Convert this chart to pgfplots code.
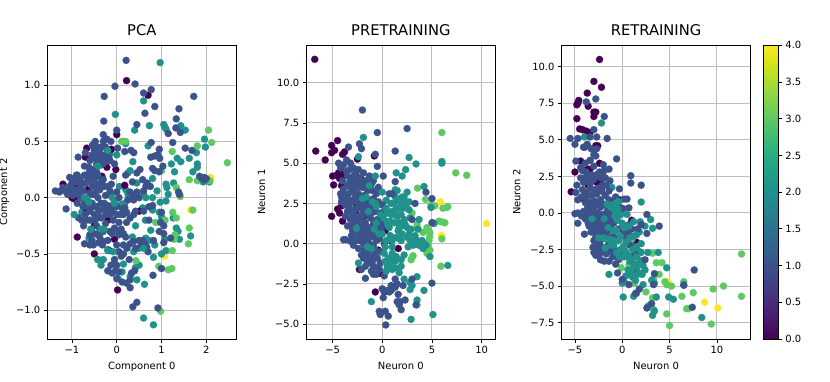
\documentclass[border=0pt]{standalone}
\usepackage{fontspec}
\setmainfont{DejaVu Sans}
\usepackage{pgfplots}
\pgfplotsset{compat=1.18}
\definecolor{c0}{HTML}{440154}
\definecolor{c1}{HTML}{3B528B}
\definecolor{c2}{HTML}{21918C}
\definecolor{c3}{HTML}{5EC962}
\definecolor{c4}{HTML}{FDE725}
\definecolor{gridc}{HTML}{BEBEBE}
\pgfplotsset{
  panel/.style={
    scale only axis, width=189bp, height=293.7bp,
    anchor=south west,
    axis line style={line width=0.8bp},
    tick align=outside, tick pos=left, major tick length=3.5bp,
    every tick/.style={black, line width=0.8bp},
    grid=major, grid style={gridc, line width=1bp},
    title style={font=\fontsize{14.8}{17}\selectfont, yshift=0.5bp},
    label style={font=\fontsize{10}{12}\selectfont},
    tick label style={font=\fontsize{10}{12}\selectfont},
    xlabel style={yshift=-2bp},
  },
  pts/.style={only marks, color=#1, mark=*, mark size=3.6bp, mark options={draw=#1, fill=#1, line width=0.1bp}},
}
\begin{document}
\begin{tikzpicture}[x=1bp, y=1bp]
\path[use as bounding box] (0,0) rectangle (830,381);

%% PCA
\begin{axis}[panel, at={(47.3bp,42bp)}, title={PCA},
  xlabel={Component 0}, ylabel={Component 2}, ylabel style={yshift=0bp},
  xmin=-1.55, xmax=2.67, ymin=-1.256, ymax=1.354,
  xtick={-1,0,1,2}, xticklabels={−1,0,1,2},
  ytick={-1,-0.5,0,0.5,1}, yticklabels={−1.0,−0.5,0.0,0.5,1.0}]
\addplot[pts=c4] coordinates {(2.1,0.18) (1.65,-0.11) (1.07,-0.52) (-0.57,0.36)};
\addplot[pts=c2] coordinates {(0.97,1.2) (0.6,0.86) (-0.03,0.74) (0.4,0.6) (0.73,0.64) (1.05,0.65) (1.07,0.63) (1.1,0.61)
 (1.43,0.64) (1.53,0.6) (1.96,0.52) (1.98,0.45) (0.2,0.48) (0.7,0.46) (1.78,0.4) (1.62,0.35) (1.35,0.35) (1.43,0.32)
 (1.22,0.3) (0.36,0.32) (1.8,0.3) (1.8,0.27) (1.7,0.23) (1.29,0.23) (0.3,0.24) (0.25,0.22) (2.07,0.14) (1.93,0.14)
 (0.8,0.17) (1.1,0.12) (1.12,0.09) (1.27,0.13) (1.15,0.03) (0.9,0.06) (0.45,0.13) (0.06,0.1) (0.2,0.07) (0.25,0.03)
 (0.6,0.03) (0.8,0.0) (0.97,-0.04) (0.58,-0.09) (0.8,-0.11) (0.95,-0.13) (1.0,-0.17) (1.26,-0.18) (1.33,-0.27) (1.37,-0.3)
 (1.27,-0.35) (1.07,-0.37) (1.65,-0.34) (1.4,-0.37) (0.64,-0.2) (0.76,-0.29) (0.35,-0.35) (0.42,-0.25) (0.5,-0.45)
 (0.38,-0.48) (0.65,-0.36) (0.72,-0.38) (0.85,-0.42) (0.82,-0.53) (1.0,-0.5) (1.1,-0.47) (0.5,-0.6) (0.42,-0.62) (0.3,-0.7)
 (0.45,-0.73) (0.62,-0.77) (0.12,-0.66) (0.15,-0.59) (0.03,-0.72) (-0.2,-0.46) (-0.3,-0.55) (-0.35,-0.57) (-0.62,-0.36)
 (-0.38,-0.28) (-0.78,-0.13) (-1.25,0.06) (-0.65,-0.02) (-0.05,-0.03) (0.1,-0.06) (0.18,-0.05) (0.6,-1.07) (0.82,-1.13)
 (-0.35,0.29) (-0.15,0.39) (0.0,0.38) (0.15,0.5) (-0.38,0.18)};
\addplot[pts=c0] coordinates {(0.22,1.04) (0.7,0.91) (0.0,0.56) (-0.52,0.47) (-0.67,0.44) (-0.7,0.36) (-0.22,0.27) (-0.02,0.25)
 (-0.33,0.19) (-0.9,0.11) (-1.2,0.12) (-0.65,0.07) (-1.0,0.0) (-0.95,-0.01) (-0.68,-0.1) (0.18,0.11) (0.5,-0.12) (-0.88,-0.35)
 (-0.05,-0.37) (-0.5,-0.5) (0.02,-0.82) (-0.5,-0.25) (-0.2,-0.2) (-0.12,0.43) (-0.17,-0.47)};
\addplot[pts=c3] coordinates {(2.05,0.6) (2.12,0.49) (2.47,0.31) (1.8,0.46) (1.24,0.41) (0.11,0.5) (0.2,0.5) (1.62,0.16) (1.8,0.15)
 (1.33,0.09) (1.42,0.01) (2.08,0.15) (1.7,-0.11) (1.25,-0.13) (1.33,-0.18) (0.87,-0.22) (1.08,-0.2) (1.62,-0.27) (1.3,-0.33)
 (1.28,-0.37) (1.6,-0.41) (1.24,-0.47) (0.43,-0.56) (0.94,-0.61) (1.23,-0.63) (1.15,-0.64) (0.98,-1.01) (-0.43,-0.55) (1.0,0.24)};
\addplot[pts=c1] coordinates {(0.21,1.22) (0.41,1.01) (-0.04,0.99) (0.77,0.96) (0.6,0.93) (-0.28,0.9) (1.72,0.9) (0.85,0.81)
 (1.39,0.79) (0.63,0.75) (-0.29,0.68) (1.33,0.7) (0.45,0.65) (1.32,0.62) (1.42,0.58) (0.0,0.6) (1.15,0.57) (-0.3,0.56) (1.25,0.49)
 (0.77,0.49) (1.53,0.44) (0.95,0.43) (1.68,0.42) (0.02,0.44) (0.18,0.41) (0.32,0.42) (0.38,0.4) (0.92,0.38) (0.76,0.36) (0.96,0.35)
 (-0.86,0.36) (-1.37,0.06) (-1.28,0.05) (-1.2,0.09) (-1.15,0.06) (-1.05,0.18) (-1.0,0.13) (-0.95,0.17) (-0.88,0.2) (-0.82,0.16)
 (-0.78,0.12) (-0.72,0.2) (-0.65,0.18) (-0.6,0.14) (-0.55,0.2) (-0.5,0.17) (-0.45,0.12) (-0.62,0.27) (-0.6,0.04) (-1.13,-0.1)
 (-1.1,0.03) (-1.02,0.05) (-0.93,0.07) (-0.85,0.03) (-0.8,0.0) (-0.72,-0.04) (-0.55,-0.05) (-0.5,0.03) (-0.42,0.0) (-0.35,-0.05)
 (-0.3,-0.1) (-0.25,0.02) (-0.2,0.1) (-0.13,0.02) (-0.1,-0.07) (-0.28,0.1) (-0.12,0.12) (-0.42,0.2) (-0.35,0.13) (-0.88,-0.05)
 (-0.7,-0.15) (-0.6,-0.12) (-0.85,-0.18) (-0.74,-0.25) (-0.5,-0.15) (-0.42,-0.17) (-0.35,-0.18) (-0.25,-0.23) (-0.15,-0.15)
 (-0.08,-0.2) (0.0,-0.15) (0.05,-0.22) (-0.05,-0.27) (0.1,-0.28) (0.15,-0.32) (0.05,-0.33) (-0.15,-0.3) (-0.3,-0.3) (-0.45,-0.25)
 (-0.55,-0.38) (-0.42,-0.33) (-0.52,-0.42) (-0.4,-0.4) (-0.3,-0.39) (-0.2,-0.38) (-0.1,-0.32) (0.0,-0.42) (0.05,-0.48) (0.15,-0.42)
 (0.3,-0.41) (0.38,-0.39) (0.5,-0.38) (0.58,-0.38) (0.62,-0.41) (0.67,-0.44) (0.82,-0.38) (0.23,-0.45) (-0.05,-0.55) (0.0,-0.6)
 (-0.2,-0.65) (-0.1,-0.67) (-0.02,-0.65) (0.05,-0.66) (0.22,-0.76) (0.3,-0.73) (0.3,-0.8) (0.4,-0.65) (0.33,-0.67) (0.36,-0.97)
 (0.45,-0.93) (0.81,-0.69) (0.92,-0.98) (1.0,-0.63) (1.0,-0.13) (0.98,-0.22) (1.05,-0.25) (1.05,-0.32) (1.05,-0.4) (1.2,-0.36)
 (0.6,-0.12) (0.72,-0.08) (0.8,-0.07) (0.68,0.13) (0.58,0.16) (0.65,0.1) (0.75,0.1) (0.8,0.26) (0.85,0.24) (0.95,0.23) (1.03,0.28)
 (1.38,0.05) (1.4,0.03) (1.85,0.19) (1.9,0.17) (1.97,0.16) (2.0,0.17) (1.95,0.18) (0.2,0.2) (0.3,0.05) (0.37,0.02) (0.38,-0.02)
 (0.25,-0.02) (0.38,-0.15) (0.3,-0.18) (0.22,-0.22) (0.15,-0.15) (0.42,-0.12) (-0.3,0.5) (-0.22,0.52) (-0.13,0.5) (-0.32,0.45)
 (-0.45,0.44) (-0.38,0.4) (-0.5,0.42) (-0.42,0.37) (-0.55,0.38) (-0.35,0.33) (-0.28,0.37) (-0.22,0.4) (-0.18,0.36) (-0.15,0.33)
 (-0.7,0.4) (-0.6,0.33) (-0.05,0.3) (-0.45,0.3) (-0.08,0.19) (-0.9,0.2) (-0.75,0.06) (-1.0,0.08) (-0.55,0.1) (-0.65,-0.08) (-0.45,-0.08)
 (-0.2,-0.07) (-0.3,0.16) (0.13,-0.1) (0.05,0.0) (0.0,0.05) (-0.6,-0.2) (-0.5,-0.32) (-0.72,-0.41) (-0.6,-0.42) (-0.32,-0.42) (0.05,-0.3)
 (0.1,-0.52) (0.52,0.25) (0.18,-0.09) (0.45,0.05) (0.5,0.0) (0.72,-0.2) (0.85,0.37) (-1.05,0.1) (-0.98,0.02) (-0.9,0.14) (-0.82,0.08)
 (-0.7,0.13) (-0.55,0.03) (-0.75,-0.08) (-0.45,0.06) (-0.38,0.07) (-0.5,-0.08) (-0.4,-0.12) (-0.28,-0.05) (-0.22,-0.12) (-0.15,0.06)
 (-0.62,0.22) (-0.52,0.25) (-0.45,0.23) (-0.72,0.28) (-0.5,0.35) (-0.42,0.45) (-0.25,0.45) (-0.3,0.3) (-0.22,0.33) (-0.55,0.46) (-0.48,0.5)
 (-0.68,-0.2) (-0.78,-0.2) (-0.1,-0.12) (0.0,-0.08) (0.08,-0.15) (0.22,-0.13) (0.2,-0.35) (-0.25,-0.15) (-0.38,-0.35) (-0.48,-0.2)
 (0.42,-0.45) (0.55,-0.42) (0.12,-0.75) (-0.13,-0.6) (0.0,-0.72) (0.15,-0.5) (-0.6,-0.33) (0.45,0.22) (0.35,0.14) (0.6,0.06) (0.95,-0.3)
 (0.7,-0.48) (0.28,-0.55)};
\addplot[pts=c2] coordinates {(-0.2,0.42) (-0.42,0.28) (-0.1,0.0) (-0.05,-0.05) (-0.72,0.0) (-0.62,-0.04) (-0.28,-0.28) (-0.35,-0.28) (-0.42,-0.55)
 (-0.35,-0.6) (-0.58,-0.28) (-0.08,-0.48) (-0.2,-0.47) (0.6,-0.45) (1.1,-0.03) (0.65,0.0) (-0.95,-0.15)};
\end{axis}

%% PRETRAINING
\begin{axis}[panel, at={(306.3bp,42bp)}, title={PRETRAINING},
  xlabel={Neuron 0}, ylabel={Neuron 1}, ylabel style={yshift=3bp},
  xmin=-7.65, xmax=11.38, ymin=-5.92, ymax=12.32,
  xtick={-5,0,5,10}, xticklabels={−5,0,5,10},
  ytick={-5,-2.5,0,2.5,5,7.5,10}, yticklabels={−5.0,−2.5,0.0,2.5,5.0,7.5,10.0}]
\addplot[pts=c4] coordinates {(10.5,1.25) (5.85,2.6) (5.95,0.5) (-0.47,0.23)};
\addplot[pts=c0] coordinates {(-6.8,11.45) (-4.5,6.4) (-5.1,6.1) (-4.8,5.8) (-5.1,5.65) (-6.7,5.75) (-5.75,5.2) (-4,5.55) (-3.8,5.7)
 (-2.5,5.25) (-0.8,5.45) (-5,4.2) (-4.6,4.25) (-4.4,4.4) (-4.1,4.5) (-3.9,4.25) (-4.3,4.05) (-4.9,3.65) (-4.1,3.6) (-3.6,3.0)
 (-2.6,4.2) (-2.1,4.0) (-4.05,2.55) (-4.1,2.35) (-4.5,2.15) (-4.3,1.9) (-5.1,1.7) (-4,1.4) (-2.6,1.85) (-1.9,1.65) (-3,2.5) (-2.9,2.3)
 (-2.1,0.5) (0.3,0.8) (-0.4,-0.4) (1.6,-0.3) (-2.3,-1.6) (-0.25,-1.85) (-0.7,-3.0) (0.8,0.2)};
\addplot[pts=c3] coordinates {(6,6.9) (7.4,4.4) (8.5,4.25) (3.55,3.45) (4.35,2.75) (5.3,2.35) (6.1,2.2) (6.5,2.25) (6.6,2.3) (3,1.9) (3.5,1.2)
 (5.7,1.4) (6,1.35) (6.3,1.3) (3.5,0.95) (4.1,0.7) (4.5,1.0) (4.7,0.8) (4.8,0.65) (4.75,0.4) (4.7,0.2) (4.6,-0.1) (4.8,-0.4) (4.5,-0.6)
 (3.1,-0.75) (3,-0.85) (2.9,-1.0) (5.9,-1.4) (3.5,-3.8) (6,0.3) (4.9,2.4) (-3.2,2.2) (1.5,2.1)};
\addplot[pts=c2] coordinates {(-1.9,6.6) (-2.4,5.4) (2.7,5.35) (3.4,4.95) (2.35,4.6) (1.4,4.4) (2.0,4.2) (6,5.1) (6,5.0) (4.2,3.55) (1.3,3.35) (1.5,3.3)
 (2.5,3.2) (1.3,2.9) (1.5,2.7) (1.9,2.5) (2.3,2.6) (2.7,2.6) (2.1,2.2) (1.2,2.5) (0.4,2.7) (4.9,2.25) (1,2.0) (1.4,2.2) (0.5,1.9) (0.2,2.05)
 (2.8,1.6) (3.7,1.5) (5.1,1.3) (5.2,1.25) (6.6,-1.35) (4.8,-0.8) (1.3,-1.1) (1.9,-1.0) (2.2,-0.7) (1.7,-1.8) (2.2,-2.2) (2.8,-2.4) (3,-2.6)
 (2.8,-2.85) (4.2,-2.9) (3.5,-3.5) (-1.1,-3.6) (2.9,-4.7) (5.1,-4.4) (3.5,-2.05) (0.9,1.8) (1.8,2.8) (2.0,2.9) (2.5,2.2) (1.9,1.8) (1.5,1.7)
 (2.3,1.2) (2.9,0.9) (3.3,0.5) (3.7,-0.1) (3.9,0.0) (3.1,-0.1) (2.6,-0.2) (1.9,0.2) (1.6,0.8) (0.7,1.0)};
\addplot[pts=c1] coordinates {(-2,8.3) (-0.5,6.9) (2.5,7.15) (-3.4,6.0) (-2.3,6.2) (-2.1,5.9) (-0.7,5.55) (1.3,5.75) (-4.4,5) (-3.6,5.2) (-3.2,5)
 (-2.9,4.7) (-2.4,4.6) (-1.9,4.4) (-0.5,4.8) (0.1,4.2) (-3.5,4.2) (-3.1,4.1) (-2.7,3.9) (-1.7,3.9) (-0.9,3.9) (-1.3,4.2) (-3.5,3.6) (-3.1,3.4)
 (-2.5,3.5) (-2,3.5) (-1.5,3.3) (-1,3.3) (-0.6,3.1) (1.3,3.85) (4.4,3.2) (5,2.8) (3.3,2.5) (-4.2,3.1) (-4.1,2.9) (-3.6,2.8) (-3.2,2.7)
 (-2.7,2.9) (-2.2,2.9) (-1.8,3) (-4.1,2.6) (-3.7,2.4) (-3.3,2.1) (-2.8,2.1) (-2.2,2.3) (-1.7,2.3) (-1.2,2.2) (-0.7,2.0) (-0.2,1.9) (-3.7,1.7)
 (-3.2,1.5) (-2.7,1.4) (-2.2,1.3) (-1.7,1.3) (-1.2,1.6) (-3.0,0.8) (-2.5,0.7) (-1.9,0.8) (-1.4,1.0) (-1,0.7) (-0.6,0.2) (-3.9,0.25) (-3.7,0.25)
 (-3.2,0.15) (-2.9,-0.1) (-2.4,-0.3) (-1.9,0) (-1.4,0.3) (-0.9,-0.1) (0.3,1.4) (1,3.1) (0.7,3.1) (3,1.5) (5,1.3) (-1.9,-0.9) (-1.3,-0.9)
 (-1,-1.1) (-0.5,-0.9) (-0.2,-1.2) (-1.7,-1.4) (-0.9,-1.4) (-0.5,-1.5) (-2.1,-1.6) (-1.7,-2.15) (-0.9,-1.9) (-0.6,-1.9) (0.2,-2) (1.3,-2.2)
 (1.5,-2.5) (0.9,-2.6) (1.3,-2.7) (2.1,-2.6) (0,-2.8) (0.5,-2.9) (0.7,-3) (1.6,-3.15) (5,-2.45) (3,-2.2) (0.1,-3.35) (2.3,-3.5) (1.8,-3.6)
 (1.7,-3.8) (1.9,-4.1) (3.4,-3.8) (-0.3,-4.2) (-0.2,-4.4) (0.3,-4.2) (0.6,-4.5) (0.35,-5.05) (-2.9,3.2) (-2.4,3.1) (-3.9,3.4) (-3.4,3.1) (-1.3,2.7)
 (-2.5,2.6) (-1.9,2.0) (-2.4,1.7) (-2.9,1.8) (-1.5,1.9) (-2.1,1.0) (-1.6,0.6) (-0.9,1.2) (-0.5,1.5) (-2.6,0.3) (-1.2,-0.4) (-1.5,-0.7) (-0.8,-0.7)
 (-0.3,0.9) (-0.1,1.3) (-4.2,4.7) (-3.9,4.9) (-3.3,4.6) (-2.8,4.3) (-2.3,4.1) (-1.5,3.9) (-3.6,4.5) (-4,3.9) (-3.3,3.8) (-2.9,3.6) (-2.2,3.8)
 (-1.7,3.5) (-1.1,3.7) (-0.4,3.5) (-3.9,3.0) (-3.4,2.4) (-2.9,2.6) (-2.5,2.2) (-1.9,2.6) (-1.5,2.5) (-0.9,2.8) (-0.4,2.6) (0,2.4) (-3.5,2.0) (-3,1.7)
 (-2.5,1.6) (-2,1.7) (-1.1,1.9) (-0.8,1.4) (-0.3,1.2) (0,1.0) (-3.5,1.1) (-3.1,1.1) (-2.7,1.0) (-2.2,0.6) (-1.7,0.3) (-1.2,0.6) (-0.8,0.4) (-0.3,0.3)
 (-3.1,0.5) (-2.7,0.2) (-2.3,0.2) (-1.8,-0.4) (-1.3,0) (-0.7,-0.4) (-0.2,-0.5) (0.2,0) (-2.1,-0.7) (-1.6,-1) (-1.1,-1.7) (-1.4,-1.2) (-0.3,-1.6)
 (1.5,-3.6) (0.9,-2.9) (0.2,-3.0)};
\addplot[pts=c2] coordinates {(0.1,1.6) (0.8,1.4) (1.2,1.3) (1.7,1.3) (2.2,1.5) (2.5,1.0) (3.6,0.9) (2,0.6) (2.5,0.4) (2.8,0.2) (3,0.2) (3.4,0.25) (4,0.2)
 (4.2,0) (4.4,-0.1) (1.4,0.4) (0.8,0.5) (0,0.6) (-0.3,0.6) (0.2,-0.6) (1,-0.6) (-1.1,-0.3) (-2.4,-1.2) (0.4,-1.7) (1,-1.6) (-0.6,1.3) (-0.8,0.9)
 (-1.3,3.6) (-1.6,2.9) (-2,2.8) (-0.7,4.2) (-1,2.6) (-0.7,2.5) (-0.6,2.3) (0,3.2) (-2.6,0.95) (-1.4,2) (-1.5,-0.2) (0.3,-1.1) (0.5,-1.4) (0.6,-0.9) (1.0,-1.1)
 (-0.2,1.8) (0.5,1.3) (0.4,2.2) (0.9,2.5) (1.7,2.2) (2.2,2.9) (2.7,2.1) (1.2,1.8) (1.7,1.0) (2.0,1.1) (2.7,0.6) (3.3,0.1) (3.6,0.0) (4.1,-0.3) (1.7,0.3)
 (1.0,0.2) (0.4,0.2) (0.3,-0.2) (1.0,-0.2) (1.4,-0.8) (0.9,-0.9) (0.7,-1.3) (1.3,-1.5) (1.9,-1.4)};
\end{axis}

%% RETRAINING
\begin{axis}[panel, at={(561.5bp,42bp)}, title={RETRAINING},
  xlabel={Neuron 0}, ylabel={Neuron 2}, ylabel style={yshift=3bp},
  xmin=-6.42, xmax=13.55, ymin=-8.62, ymax=11.47,
  xtick={-5,0,5,10}, xticklabels={−5,0,5,10},
  ytick={-7.5,-5,-2.5,0,2.5,5,7.5,10}, yticklabels={−7.5,−5.0,−2.5,0.0,2.5,5.0,7.5,10.0},
  colormap/viridis, point meta min=0, point meta max=4,
  colorbar,
  colorbar shift/.style={xshift=12.4bp},
  colorbar style={width=15bp, ytick={0,0.5,1,1.5,2,2.5,3,3.5,4},
    yticklabels={0.0,0.5,1.0,1.5,2.0,2.5,3.0,3.5,4.0},
    tick align=outside, major tick length=3.5bp, ytick pos=right,
    every tick/.style={black, line width=0.8bp},
    axis line style={line width=0.8bp}}]
\addplot[pts=c4] coordinates {(8.7,-6.1) (10.1,-6.5) (4.8,-4.7)};
\addplot[pts=c0] coordinates {(-2.4,10.5) (-3,9) (-2.2,8.6) (-3.7,8.2) (-4.6,7.7) (-4.7,7.5) (-4.8,7.4) (-3.6,7.3) (-3,6.9) (-2.8,6.9) (-3,6.6) (-4.8,6.45)
 (-4.5,5.75) (-4.2,5.7) (-3.8,5.6) (-3.4,5.5) (-4,4.5) (-2.8,4.6) (-2.6,4.6) (-4.4,3.55) (-2.4,3.4) (-5,2.8) (-3.7,3) (-3.4,3) (-3.5,2.4) (-2.7,2.1)
 (-2.3,2.1) (-3.6,1.9) (-5.4,1.45) (-4.2,1.0) (-1.2,0.8) (-0.3,0.9) (1.0,-0.5) (1.5,-2) (-2.2,1.6)};
\addplot[pts=c3] coordinates {(12.6,-2.8) (12.6,-5.7) (10.7,-5) (9.6,-5.2) (9.4,-7.6) (7.5,-5.45) (6.3,-5.7) (6.5,-4.7) (6.8,-6.55) (7,-6.55) (5.0,-7.7) (4.7,-6.9)
 (5.2,-5) (4.5,-4.7) (4.7,-4.9) (3.3,-4.5) (3.2,-5.8) (2.9,-6.3) (2.5,-5.4) (3.2,-2.75) (3.6,-3.4) (4.2,-3.4) (1.8,-3.2) (0.8,-3.4) (0.7,-3.55) (-0.1,-3.75)
 (0.3,-1.7) (1.3,-4.8) (1.0,-1.8) (3.9,-4.2) (3.3,-6.6)};
\addplot[pts=c2] coordinates {(-2.2,6.15) (-4,5.2) (-3.4,3.6) (-1.1,1.75) (-3.4,1.45) (-3.5,0.75) (2,0.75) (3,-0.45) (3.2,-1.05) (1.8,-1.3) (2,-2.1) (2,-2.7) (2.7,-2.7) (3.8,-2.7)
 (2,-3.3) (1.8,-3.5) (2.2,-3.6) (1.5,-3.8) (1.6,-4.2) (2.4,-3.9) (-1.4,-4.2) (1.1,-4.4) (1.4,-4.6) (2.2,-4.9) (3.1,-4.6) (3.4,-4.8) (4.7,-3.75) (0,-4.8) (0.2,-4.7)
 (0.1,-5.75) (1.2,-5.7) (1.5,-5.5) (3.6,-5.75) (4.9,-5.75) (5.4,-5.9) (6.5,-4.9) (3.2,-7) (3.4,-6.7) (2.7,-6.4) (8.4,-7.15) (0.6,-3.9) (0.9,-4.2) (1.3,-4.0)
 (0.4,-4.3) (0.9,-3.0) (0.5,-2.8) (1.7,-2.6) (1.1,-1.6) (1.9,-0.6) (2.4,-0.9)};
\addplot[pts=c1] coordinates {(-2.8,7.8) (-3.8,7.6) (-1.9,6.6) (-3,5.7) (-5.5,5.1) (-4.7,5.1) (-3.4,5.2) (-2.7,5.2) (-1.6,5.1) (-5,4.7) (-4.1,4.5) (-3.7,4.7) (-3.3,4.4) (-2.7,4.4)
 (-3,4) (-2.8,3.9) (-0.6,3.7) (-4.9,3.55) (-3.4,3.6) (-3,3.2) (-2,3.3) (-1.4,3) (-4.2,2.9) (-3.8,2.8) (-2.4,2.8) (-1.9,2.9) (0.9,2.55) (0.9,2.05) (2,1.9) (-4.8,1.9) (-4.1,2.1)
 (-3.4,2.0) (-3,2.3) (-1.7,1.9) (-0.3,1.65) (-4.9,1.4) (-4.2,1.6) (-3.2,1.2) (-2.7,1.3) (-1.8,1.2) (-0.7,1.1) (0.2,0.95) (0.5,0.95) (-4.7,0.9) (-3.9,0.7) (-2.9,0.8) (-2.3,0.4)
 (-1.4,0.9) (0.7,0.35) (-5,-0.05) (-4.7,0) (-4.1,0.1) (-3.7,0.3) (-3,0.2) (-2.6,0) (-1.6,0.1) (-4.7,-0.7) (-3.4,-0.35) (-3,-0.6) (-2.5,-0.5) (-1.3,-0.4) (2.6,-0.1) (3.9,-0.9)
 (2,-0.8) (-4,-1.45) (-3,-1.2) (-2.5,-1.1) (-2,-1) (-0.4,-1.1) (0.6,-1.35) (2.6,-1.4) (-3,-1.9) (-2.4,-2) (-1.7,-1.4) (-0.5,-1.7) (-3.1,-2.35) (-2.6,-2.3) (-2.2,-2.3) (-1.5,-2.2)
 (-1,-2.6) (1.2,-2.3) (1.3,-2.8) (-2.8,-2.9) (-2.4,-2.8) (-1.7,-2.8) (-1,-3) (-0.4,-3.2) (-2.3,-3.2) (-1.9,-3.3) (-1.4,-3.3) (2.4,-3.2) (-0.5,-4.1) (1.1,-3.9) (3.4,-4.15) (7.6,-3.9)
 (0,-4.55) (0.7,-4.9) (3.3,-4.9) (1.8,-5.2) (1.4,-5.5) (6.5,-4.95) (3.1,-6.2) (2.6,-6.5) (7.4,-6.45) (-3.9,3.4) (-3.6,2.5) (-2.8,2.6) (-2.2,2.4) (-4.4,2.4) (-3.9,1.4) (-2.2,1.5)
 (-3.5,0.2) (-2.1,-0.1) (-2.9,-0.2) (-2.1,-0.7) (-1.6,-0.9) (-1.2,-1.0) (-2.7,-1.5) (-2.1,-1.6) (-3.5,-0.9) (-1.2,0.1) (-2.3,0.9) (-3.3,0.7) (-4.4,3.1) (-4,2.4) (-3.7,2.2) (-3.2,2.6)
 (-2.6,2.6) (-2.1,2.7) (-1.8,2.4) (-1.3,2.2) (-4.3,1.1) (-3.8,1.1) (-3.4,1.7) (-2.9,1.6) (-2.5,1.7) (-2.1,1.9) (-1.4,1.5) (-3.5,0.5) (-3,0.5) (-2.6,0.6) (-2,0.6) (-1.7,0.5) (-4.3,-0.2)
 (-3.9,-0.4) (-3.7,-0.1) (-3.2,-0.2) (-2.3,-0.3) (-1.6,-0.3) (-1,-0.3) (-3.6,-0.7) (-3.2,-0.9) (-2.7,-0.9) (-2.4,-0.7) (-1.8,-0.8) (-1.4,-0.7) (-0.9,-0.7) (-3.3,-1.3) (-2.8,-1.5)
 (-2.2,-1.3) (-1.5,-1.2) (-1,-1.6) (-2.9,-1.8) (-2.2,-1.8) (-1.5,-1.7) (-2.7,-2.6) (-2,-2.5) (-1.3,-2.6) (-0.8,-2.5) (-3,-2.7) (-0.7,-3.5) (-0.1,-2.6) (0.3,-1.6) (0.8,-2.2) (0.7,-0.8)
 (-0.2,-0.1) (0.1,0.3) (-0.3,0.4) (-1.1,0.5) (0.1,-1.2) (1.6,-1.1) (1.0,-1.1)};
\addplot[pts=c2] coordinates {(-3.2,-0.4) (-1.9,-0.4) (-0.4,0.8) (0.5,-0.1) (1.2,-0.6) (-0.5,-0.5) (0,-0.7) (-0.7,0) (-0.8,0.2) (-1.2,0.4) (-1.6,0.6) (-0.9,-1.2) (-1.8,-1.75) (-1.3,-1.8)
 (-0.8,-1.9) (-0.6,-1.2) (-2.5,-1.7) (-1.8,-2.4) (-0.9,-2.2) (0.1,-2.3) (0.3,-2.6) (0.2,-3) (-0.3,-3) (0.7,-3) (1.5,-2.3) (-0.4,-1.9) (-0.8,-0.2) (1.5,-1.5) (1,-3.3) (1.5,-3.0)
 (-0.9,0.6) (-0.5,0.3) (-0.2,-0.1) (0.2,-1.0) (0.7,-0.9) (-0.2,-1.6) (0.4,-2) (0.8,-1.7) (1.1,-2.5) (-0.2,-2.5) (-0.6,-2.7) (0.8,-3.3) (1.5,-3.5) (0.9,-4) (1.2,-3.7) (1.8,-4.1) (2.1,-4.2)
 (-1.2,-2.2) (-2,-1.7) (-1.5,-1.0)};
\end{axis}
\end{tikzpicture}
\end{document}
